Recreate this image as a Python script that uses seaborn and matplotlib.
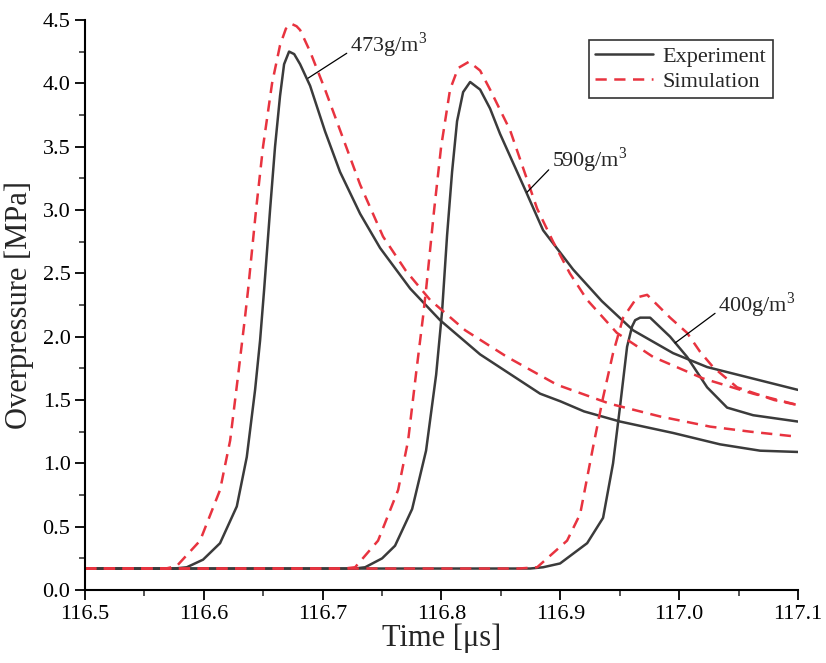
import numpy as np
import pandas as pd
import matplotlib
matplotlib.use("Agg")
import matplotlib.pyplot as plt
import seaborn as sns
from matplotlib.ticker import MultipleLocator, FormatStrFormatter

# ---- data ----
exp473_t = [116.5, 116.575, 116.5856, 116.5993, 116.6136, 116.6277, 116.6361, 116.6431, 116.6473,
            116.6507, 116.6557, 116.6599, 116.6641, 116.6675, 116.6717, 116.6760, 116.6810, 116.6894,
            116.7020, 116.7146, 116.7315, 116.7483, 116.7736, 116.7988, 116.8325, 116.8830, 116.9000,
            116.9200, 116.9503, 116.9949, 117.0345, 117.0682, 117.1]
exp473_p = [0.17, 0.17, 0.18, 0.24, 0.37, 0.66, 1.05, 1.58, 1.97,
            2.37, 3.0, 3.5, 3.9, 4.15, 4.25, 4.23, 4.15, 3.98,
            3.62, 3.3, 2.97, 2.70, 2.38, 2.13, 1.86, 1.55, 1.49,
            1.41, 1.33, 1.24, 1.15, 1.10, 1.09]

sim473_t = [116.5, 116.568, 116.5772, 116.5968, 116.6136, 116.6221, 116.6290, 116.6347, 116.6372,
            116.6439, 116.6498, 116.6574, 116.6641, 116.6690, 116.6734, 116.6780, 116.6810, 116.6894,
            116.7020, 116.7146, 116.7315, 116.7508, 116.7700, 116.7904, 116.8200, 116.8552, 116.8973,
            116.9419, 116.9840, 117.0261, 117.06, 117.1]
sim473_p = [0.17, 0.17, 0.19, 0.39, 0.79, 1.18, 1.71, 2.16, 2.37,
            3.0, 3.5, 4.0, 4.3, 4.43, 4.47, 4.45, 4.42, 4.25,
            3.95, 3.63, 3.2, 2.79, 2.52, 2.29, 2.05, 1.84, 1.62,
            1.47, 1.37, 1.29, 1.25, 1.21]

exp590_t = [116.5, 116.7270, 116.7357, 116.7500, 116.7609, 116.7753, 116.7870, 116.7955, 116.8005,
            116.8047, 116.8089, 116.8131, 116.8182, 116.8241, 116.8325, 116.8409, 116.8493, 116.8704,
            116.8855, 116.9108, 116.9350, 116.9613, 116.9949, 117.0236, 117.1]
exp590_p = [0.17, 0.17, 0.18, 0.25, 0.35, 0.64, 1.1, 1.7, 2.2,
            2.8, 3.3, 3.7, 3.93, 4.01, 3.95, 3.80, 3.6, 3.16,
            2.84, 2.53, 2.28, 2.05, 1.87, 1.76, 1.58]

sim590_t = [116.5, 116.718, 116.7273, 116.7466, 116.7635, 116.7719, 116.7786, 116.7845, 116.7870,
            116.7938, 116.7997, 116.8072, 116.8140, 116.8232, 116.8325, 116.8409, 116.8577, 116.8805,
            116.8939, 116.9080, 116.9226, 116.9476, 116.9781, 117.0202, 117.0623, 117.1]
sim590_p = [0.17, 0.17, 0.18, 0.39, 0.79, 1.18, 1.71, 2.16, 2.37,
            3.0, 3.5, 3.95, 4.12, 4.17, 4.10, 3.95, 3.63, 3.01,
            2.75, 2.50, 2.29, 2.03, 1.84, 1.67, 1.55, 1.46]

exp400_t = [116.5, 116.8746, 116.8855, 116.8998, 116.9226, 116.9360, 116.9444, 116.9503, 116.9562,
            116.9604, 116.9630, 116.9672, 116.9756, 116.9924, 117.0067, 117.0236, 117.0404, 117.0623, 117.1]
exp400_p = [0.17, 0.17, 0.18, 0.21, 0.37, 0.57, 1.0, 1.45, 1.92,
            2.08, 2.13, 2.15, 2.15, 2.0, 1.84, 1.60, 1.44, 1.38, 1.33]

sim400_t = [116.5, 116.8650, 116.8805, 116.9057, 116.9167, 116.9276, 116.9360, 116.9444, 116.9529,
            116.9646, 116.9731, 116.9924, 117.0067, 117.0177, 117.0286, 117.0488, 117.08, 117.1]
sim400_p = [0.17, 0.17, 0.18, 0.39, 0.6, 1.13, 1.52, 1.87, 2.15,
            2.31, 2.33, 2.15, 2.03, 1.88, 1.76, 1.60, 1.50, 1.46]

labels = [r"473g/m$^{\mathrm{3}}$", r"590g/m$^{\mathrm{3}}$", r"400g/m$^{\mathrm{3}}$"]
label_xy = [(116.6877, 4.04), (116.872, 3.14), (116.9966, 1.95)]
label_text_xy = [(116.723, 4.30), (116.893, 3.39), (117.033, 2.25)]

# ---- plotting ----
sns.set_style("ticks")
plt.rcParams["font.family"] = ["Liberation Serif", "DejaVu Serif"]
plt.rcParams["mathtext.fontset"] = "custom"
plt.rcParams["mathtext.rm"] = "Liberation Serif"

fig = plt.figure(figsize=(8.26, 6.63), dpi=100)
ax = fig.add_axes([0.103, 0.110, 0.863, 0.860])

black = "#3b3b3b"
red = "#e8333f"

exp_series = [(exp473_t, exp473_p), (exp590_t, exp590_p), (exp400_t, exp400_p)]
sim_series = [(sim473_t, sim473_p), (sim590_t, sim590_p), (sim400_t, sim400_p)]

for i, (t, p) in enumerate(exp_series):
    sns.lineplot(x=t, y=p, ax=ax, color=black, lw=1.8, sort=False, estimator=None,
                 label="Experiment" if i == 0 else None)
for i, (t, p) in enumerate(sim_series):
    sns.lineplot(x=t, y=p, ax=ax, color=red, lw=1.8, sort=False, estimator=None,
                 linestyle=(0, (4.5, 3)), label="Simulation" if i == 0 else None)

for txt, xy, xyt in zip(labels, label_xy, label_text_xy):
    ax.annotate(txt, xy=xy, xytext=xyt, fontsize=16, ha="left", va="center",
                arrowprops=dict(arrowstyle="-", color="black", lw=0.9,
                                shrinkA=0, shrinkB=0, relpos=(0, 0.3)))

ax.set_xlim(116.5, 117.1)
ax.set_ylim(0, 4.5)
ax.xaxis.set_major_locator(MultipleLocator(0.1))
ax.xaxis.set_minor_locator(MultipleLocator(0.05))
ax.yaxis.set_major_locator(MultipleLocator(0.5))
ax.yaxis.set_minor_locator(MultipleLocator(0.25))
ax.xaxis.set_major_formatter(FormatStrFormatter("%.1f"))
ax.yaxis.set_major_formatter(FormatStrFormatter("%.1f"))
ax.tick_params(which="major", direction="out", length=7, width=1.3, labelsize=16, colors="black")
ax.tick_params(which="minor", direction="out", length=4, width=1.1)
for s in ["top", "right"]:
    ax.spines[s].set_visible(False)
for s in ["left", "bottom"]:
    ax.spines[s].set_linewidth(1.5)
    ax.spines[s].set_color("black")

ax.set_xlabel("Time [μs]", fontsize=22, labelpad=0)
ax.set_ylabel("Overpressure [MPa]", fontsize=22, labelpad=6)

leg = ax.legend(loc="upper right", bbox_to_anchor=(0.98, 0.985), fontsize=16, frameon=True,
                fancybox=False, edgecolor="black", handlelength=2.6, borderpad=0.3,
                labelspacing=0.2, handletextpad=0.4)
leg.get_frame().set_linewidth(1.2)

fig.savefig("out.png", dpi=100)
